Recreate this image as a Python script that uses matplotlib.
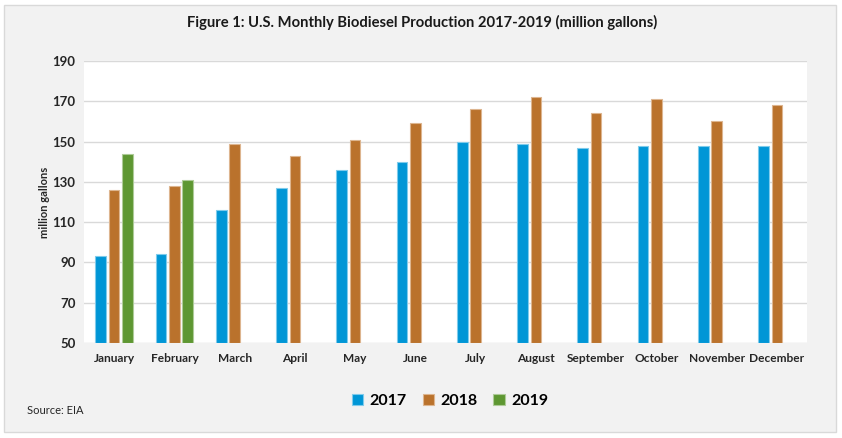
"""U.S. monthly biodiesel production 2017-2019, clustered bars."""

import numpy as np
import matplotlib
matplotlib.use("Agg")
import matplotlib.pyplot as plt
from matplotlib.patches import Rectangle

plt.rcParams['font.family'] = ['Lato', 'DejaVu Sans']

months = ['January', 'February', 'March', 'April', 'May', 'June', 'July',
          'August', 'September', 'October', 'November', 'December']
prod_2017 = [93, 94, 116, 127, 136, 140, 150, 149, 147, 148, 148, 148]
prod_2018 = [126, 128, 149, 143, 151, 159, 166, 172, 164, 171, 160, 168]
prod_2019 = [144, 131]
years = ['2017', '2018', '2019']
colors = ['#0096D6', '#BA722C', '#5E9732']
edges = ['#7FCBEB', '#DDB58F', '#AECB98']
y_ticks = [50, 70, 90, 110, 130, 150, 170, 190]

fig = plt.figure(figsize=(8.42, 4.38), dpi=100, facecolor='white')
fig.patches.append(Rectangle((4 / 842, 1 - 432 / 438), 832 / 842, 427 / 438,
                             transform=fig.transFigure, facecolor='#F2F2F2',
                             edgecolor='#D9D9D9', linewidth=1.0, zorder=-5))

ax = fig.add_axes([84 / 842, 1 - 343 / 438, 723 / 842, 282 / 438])
ax.set_zorder(2)
ax.set_facecolor('white')

x = np.arange(len(months))
width = 0.178
step = 0.222
series = [prod_2017, prod_2018, prod_2019]
handles = []
for i, vals in enumerate(series):
    xs = x[:len(vals)] + (i - 1) * step
    b = ax.bar(xs, np.array(vals) - 50, width, bottom=50, color=colors[i],
               edgecolor=edges[i], linewidth=0.8, zorder=3, label=years[i])
    handles.append(b)

ax.set_ylim(50, 190)
ax.set_xlim(-0.5, len(months) - 0.5)
ax.set_yticks(y_ticks)
ax.set_yticklabels([str(v) for v in y_ticks], fontsize=9.5, fontweight='bold',
                   color='#262626')
ax.set_xticks(x)
ax.set_xticklabels(months, fontsize=8.6, fontweight='bold', color='#262626')
ax.tick_params(axis='both', length=0)
ax.tick_params(axis='y', pad=6)
ax.tick_params(axis='x', pad=7)
ax.grid(axis='y', color='#D9D9D9', linewidth=1.0, zorder=0)
for s in ax.spines.values():
    s.set_visible(False)

ax.set_ylabel('million gallons', fontsize=8, fontweight='bold', color='#262626',
              labelpad=2)

fig.text(422 / 842, 1 - 22 / 438,
         'Figure 1: U.S. Monthly Biodiesel Production 2017-2019 (million gallons)',
         ha='center', va='center', fontsize=10.6, fontweight='bold', color='#1a1a1a')

fig.legend(handles=handles, loc='center', bbox_to_anchor=(450 / 842, 1 - 401 / 438),
           ncol=3, frameon=False, prop={'weight': 'bold', 'size': 11.5},
           handlelength=0.7, handleheight=0.7, handletextpad=0.4, columnspacing=1.0)

fig.text(27 / 842, 1 - 410 / 438, 'Source: EIA', ha='left', va='center',
         fontsize=8, color='#262626')

plt.savefig('out.png', dpi=100, facecolor=fig.get_facecolor())
plt.close()
